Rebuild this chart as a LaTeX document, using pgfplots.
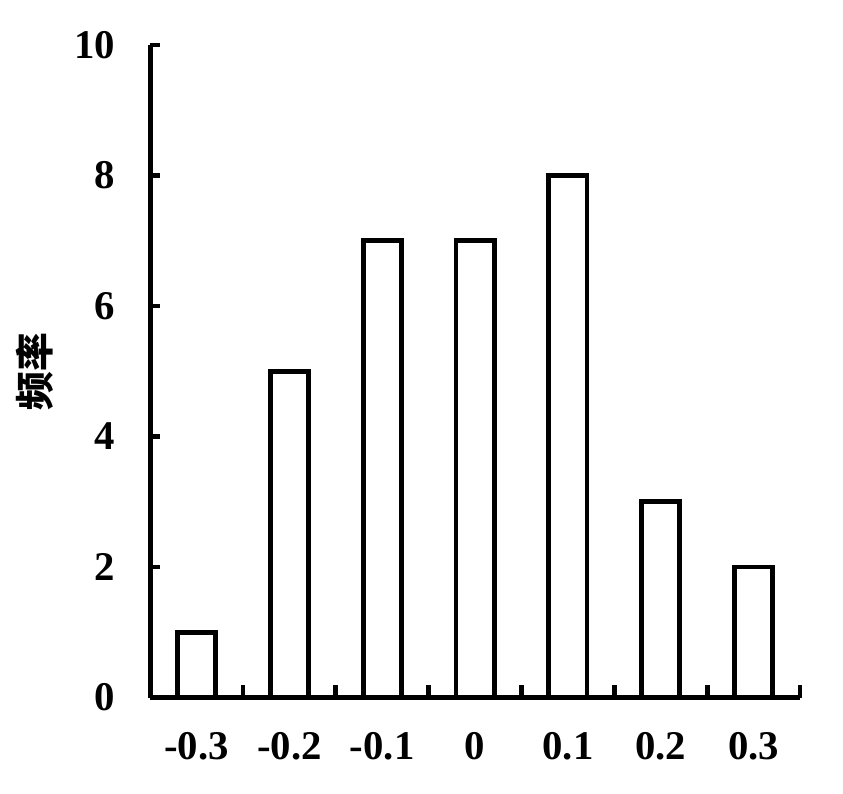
\documentclass[border=0pt]{standalone}
\usepackage{fontspec}
\setmainfont{Liberation Serif}
\newfontfamily\cjk{Noto Sans CJK SC}
\usepackage{pgfplots}
\pgfplotsset{compat=1.18}
\begin{document}
\begin{tikzpicture}
\begin{axis}[
  scale only axis,
  width=231pt, height=232pt,
  xmin=-0.5, xmax=6.5,
  ymin=0, ymax=10,
  axis lines=left,
  axis line style={line width=1.7pt, -},
  every axis line/.append style={line cap=rect},
  xtick={0,...,6},
  xticklabels={-0.3,-0.2,-0.1,0,0.1,0.2,0.3},
  major x tick style={draw=none},
  minor xtick={0.5,1.5,...,6.5},
  minor x tick style={line width=1.7pt, black},
  minor tick length=4.3pt,
  ytick={0,2,...,10},
  major y tick style={line width=1.7pt, black},
  major tick length=3.6pt,
  tick align=inside,
  /pgf/number format/assume math mode=true,
  ticklabel style={font=\fontsize{14.5}{17}\selectfont\bfseries},
  xticklabel style={yshift=-9pt},
  yticklabel style={xshift=-9pt},
  ylabel={\cjk\bfseries 频率},
  ylabel style={font=\fontsize{13.8}{16}\selectfont, at={(axis description cs:0,0.5)}, anchor=center, yshift=41pt},
  clip=false,
]
\addplot[ybar, bar width=0.41, draw=black, line width=1.7pt, fill=white] coordinates {
  (0,1) (1,5) (2,7) (3,7) (4,8) (5,3) (6,2)
};
\end{axis}
\path (current axis.south west) ++(-53.4pt,-34.2pt) coordinate (bbA);
\path (current axis.north east) ++(15.3pt,16pt) coordinate (bbB);
\useasboundingbox (bbA) rectangle (bbB);
\end{tikzpicture}
\end{document}
